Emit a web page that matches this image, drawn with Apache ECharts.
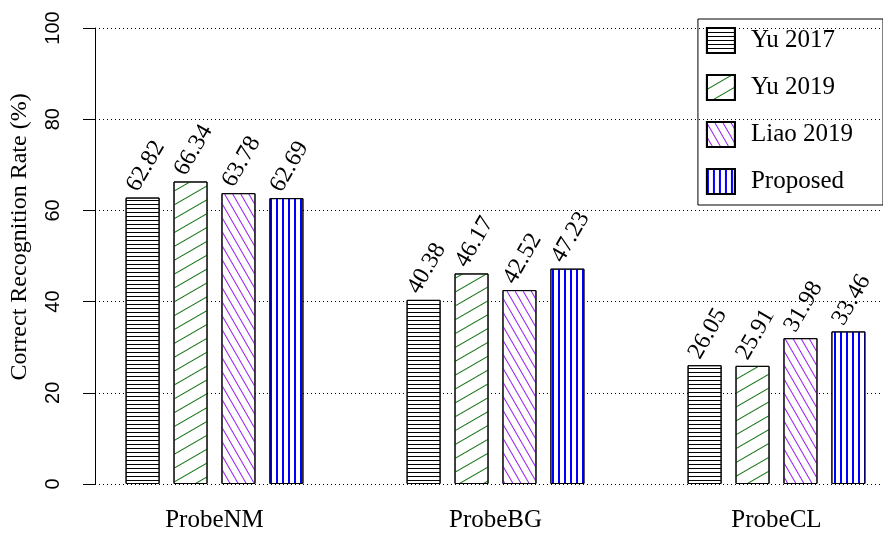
<!DOCTYPE html>
<html>
<head>
<meta charset="utf-8">
<script src="https://cdn.jsdelivr.net/npm/echarts@6/dist/echarts.min.js"></script>
<style>
html, body { margin: 0; padding: 0; background: #fff; }
#chart { width: 883px; height: 541px; }
</style>
</head>
<body>
<div id="chart"></div>
<script>
// data
var categories = ['ProbeNM', 'ProbeBG', 'ProbeCL'];
var methods = ['Yu 2017', 'Yu 2019', 'Liao 2019', 'Proposed'];
var yu2017 = [62.82, 40.38, 26.05];
var yu2019 = [66.34, 46.17, 25.91];
var liao2019 = [63.78, 42.52, 31.98];
var proposed = [62.69, 47.23, 33.46];
var yMin = 0, yMax = 100, yStep = 20;

var serif = 'Liberation Serif';
var sans = 'Liberation Sans';

// line hatches, one per method
var hatches = [
    { symbol: 'rect', symbolSize: 1, color: '#000000', dashArrayX: [1, 0], dashArrayY: [1, 3], rotation: 0 },
    { symbol: 'rect', symbolSize: 1, color: '#137313', dashArrayX: [1, 0], dashArrayY: [1, 11], rotation: -Math.PI / 6 },
    { symbol: 'rect', symbolSize: 1, color: '#9A1CEE', dashArrayX: [1, 0], dashArrayY: [1, 6], rotation: Math.PI / 3 },
    { symbol: 'rect', symbolSize: 1, color: '#0000FF', dashArrayX: [2, 4], dashArrayY: [1, 0], rotation: 0 }
];
var values = [yu2017, yu2019, liao2019, proposed];

var series = [];
for (var i = 0; i < methods.length; i++) {
    series.push({
        name: methods[i],
        type: 'bar',
        xAxisIndex: 1,
        yAxisIndex: 1,
        barWidth: 34,
        barGap: '41%',
        itemStyle: {
            color: '#ffffff',
            borderColor: '#000000',
            borderWidth: 1,
            decal: hatches[i]
        },
        label: {
            show: true,
            position: 'top',
            distance: 2,
            rotate: 60,
            align: 'left',
            verticalAlign: 'bottom',
            fontFamily: serif,
            fontSize: 24,
            color: '#000'
        },
        data: values[i]
    });
}

var myChart = echarts.init(document.getElementById('chart'));
var option = {
    backgroundColor: '#FFFFFF',
    animation: false,
    grid: [
        { left: 95, right: 0, top: 28, bottom: 57, outerBoundsMode: 'none' },
        { left: 74, width: 843, top: 28, bottom: 57, outerBoundsMode: 'none' }
    ],
    legend: {
        data: methods,
        orient: 'vertical',
        right: 0,
        top: 19,
        icon: 'rect',
        itemWidth: 28,
        itemHeight: 25,
        itemGap: 20,
        padding: [8, 30, 10, 8],
        borderColor: '#000',
        borderWidth: 1,
        textStyle: {
            fontFamily: serif,
            fontSize: 25,
            color: '#000',
            padding: [0, 0, 0, 11]
        }
    },
    graphic: [{
        type: 'text',
        x: 20,
        y: 237,
        rotation: Math.PI / 2,
        style: {
            text: 'Correct Recognition Rate (%)',
            fontFamily: serif,
            fontSize: 24,
            fill: '#000',
            align: 'center',
            verticalAlign: 'middle'
        }
    }],
    xAxis: [
        { gridIndex: 0, type: 'category', data: categories, show: false },
        {
            gridIndex: 1,
            type: 'category',
            data: categories,
            axisLine: { show: false },
            axisTick: { show: false },
            axisLabel: { margin: 24, fontFamily: serif, fontSize: 25, color: '#000' }
        }
    ],
    yAxis: [
        {
            gridIndex: 0,
            type: 'value',
            min: yMin,
            max: yMax,
            interval: yStep,
            axisLine: { show: true, lineStyle: { color: '#000', width: 1 } },
            axisTick: { show: true, length: 12, lineStyle: { color: '#000' } },
            axisLabel: { rotate: 90, margin: 32, fontFamily: sans, fontSize: 20, color: '#000' },
            splitLine: { show: true, lineStyle: { color: '#000', width: 1, type: [1, 3] } }
        },
        { gridIndex: 1, type: 'value', min: yMin, max: yMax, show: false }
    ],
    series: series
};
myChart.setOption(option);
</script>
</body>
</html>
